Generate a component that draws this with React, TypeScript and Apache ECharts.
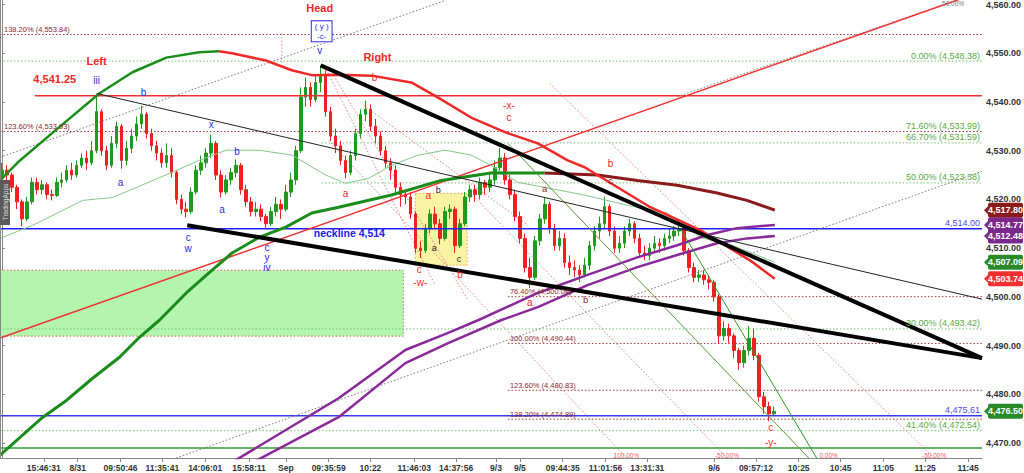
import React, { useEffect, useRef } from "react";
import * as echarts from "echarts";

// ---------- DATA ----------
// candles: [open, close, low, high], one per bar index
const candles: number[][] = [
  [4525.0, 4526.0, 4524.0, 4527.5], [4526.0, 4525.0, 4523.5, 4527.0], [4525.0, 4522.5, 4521.5, 4525.5], [4522.5, 4519.5, 4518.0, 4523.0],
  [4519.5, 4516.0, 4514.5, 4520.0], [4516.0, 4519.5, 4515.5, 4520.5], [4519.5, 4523.5, 4519.0, 4524.5], [4523.5, 4522.0, 4521.0, 4524.5],
  [4522.0, 4523.0, 4521.0, 4524.0], [4523.0, 4521.0, 4520.0, 4523.5], [4521.0, 4520.8, 4519.8, 4522.0], [4520.8, 4523.5, 4520.5, 4524.5],
  [4523.5, 4524.0, 4522.5, 4525.5], [4524.0, 4526.0, 4523.5, 4527.0], [4526.0, 4525.0, 4524.0, 4527.5], [4525.0, 4527.0, 4524.5, 4528.0],
  [4527.0, 4528.5, 4526.5, 4529.5], [4528.5, 4527.5, 4526.0, 4530.0], [4527.5, 4530.0, 4527.0, 4532.0], [4530.0, 4538.0, 4529.5, 4541.25],
  [4538.0, 4530.0, 4529.0, 4538.5], [4530.0, 4527.0, 4526.0, 4531.0], [4527.0, 4531.5, 4526.5, 4533.0], [4531.5, 4535.0, 4530.5, 4536.0],
  [4535.0, 4528.0, 4526.3, 4535.5], [4528.0, 4530.5, 4527.0, 4532.0], [4530.5, 4533.0, 4529.5, 4534.5], [4533.0, 4535.5, 4532.0, 4537.0],
  [4535.5, 4537.5, 4534.5, 4539.2], [4537.5, 4533.5, 4532.5, 4538.0], [4533.5, 4531.0, 4530.0, 4534.5], [4531.0, 4529.5, 4528.0, 4532.0],
  [4529.5, 4527.5, 4526.5, 4530.5], [4527.5, 4529.0, 4526.5, 4531.5], [4529.0, 4525.5, 4524.5, 4530.5], [4525.5, 4520.0, 4519.0, 4526.0],
  [4520.0, 4518.0, 4517.0, 4521.0], [4518.0, 4517.5, 4516.3, 4519.5], [4517.5, 4521.5, 4517.0, 4522.5], [4521.5, 4526.0, 4521.0, 4527.0],
  [4526.0, 4527.5, 4525.0, 4529.0], [4527.5, 4529.5, 4526.5, 4530.5], [4529.5, 4531.5, 4528.5, 4533.3], [4531.5, 4525.0, 4524.0, 4532.0],
  [4525.0, 4521.5, 4520.4, 4526.0], [4521.5, 4524.0, 4521.0, 4525.0], [4524.0, 4525.5, 4523.0, 4526.5], [4525.5, 4527.0, 4524.5, 4528.2],
  [4527.0, 4522.0, 4521.0, 4527.5], [4522.0, 4519.5, 4518.5, 4523.0], [4519.5, 4517.5, 4516.5, 4520.5], [4517.5, 4518.0, 4516.5, 4519.5],
  [4518.0, 4516.5, 4515.5, 4519.0], [4516.5, 4515.0, 4514.2, 4517.0], [4515.0, 4517.5, 4514.5, 4518.5], [4517.5, 4519.0, 4516.5, 4520.5],
  [4519.0, 4518.0, 4516.0, 4520.0], [4518.0, 4521.5, 4517.5, 4523.0], [4521.5, 4524.0, 4520.5, 4525.5], [4524.0, 4530.0, 4523.0, 4531.0],
  [4530.0, 4541.0, 4529.5, 4543.0], [4541.0, 4543.0, 4539.0, 4545.0], [4543.0, 4540.5, 4539.0, 4544.0], [4540.5, 4544.0, 4540.0, 4545.5],
  [4544.0, 4545.5, 4542.0, 4547.5], [4545.5, 4538.0, 4537.0, 4546.5], [4538.0, 4533.0, 4532.0, 4539.0], [4533.0, 4531.0, 4529.5, 4534.5],
  [4531.0, 4528.0, 4527.0, 4532.0], [4528.0, 4525.5, 4524.3, 4529.0], [4525.5, 4529.0, 4525.0, 4530.0], [4529.0, 4533.5, 4528.0, 4534.5],
  [4533.5, 4537.5, 4532.5, 4538.5], [4537.5, 4538.5, 4536.0, 4540.3], [4538.5, 4535.0, 4534.0, 4539.5], [4535.0, 4533.0, 4531.5, 4536.5],
  [4533.0, 4530.0, 4529.0, 4534.0], [4530.0, 4527.5, 4526.5, 4531.0], [4527.5, 4526.0, 4524.0, 4528.5], [4526.0, 4522.5, 4521.5, 4527.0],
  [4522.5, 4521.0, 4518.5, 4523.5], [4521.0, 4520.5, 4519.0, 4522.0], [4520.5, 4517.0, 4516.0, 4521.5], [4517.0, 4510.0, 4509.0, 4517.5],
  [4510.0, 4509.5, 4508.0, 4511.5], [4509.5, 4514.0, 4509.0, 4515.0], [4514.0, 4517.0, 4513.0, 4518.0], [4517.0, 4515.0, 4514.0, 4518.5],
  [4515.0, 4512.0, 4510.8, 4516.0], [4512.0, 4517.5, 4511.5, 4518.5], [4517.5, 4518.0, 4516.0, 4519.0], [4518.0, 4510.5, 4509.0, 4518.5],
  [4510.5, 4515.0, 4510.0, 4516.0], [4515.0, 4520.5, 4514.5, 4521.5], [4520.5, 4522.0, 4519.5, 4523.0], [4522.0, 4521.0, 4519.5, 4523.0],
  [4521.0, 4523.5, 4520.0, 4524.5], [4523.5, 4522.5, 4521.0, 4524.0], [4522.5, 4524.0, 4521.5, 4525.5], [4524.0, 4526.5, 4523.0, 4528.0],
  [4526.5, 4528.5, 4525.5, 4530.6], [4528.5, 4524.0, 4523.0, 4529.5], [4524.0, 4521.0, 4520.0, 4525.0], [4521.0, 4516.5, 4515.5, 4522.0],
  [4516.5, 4512.0, 4511.0, 4517.5], [4512.0, 4506.0, 4505.0, 4513.0], [4506.0, 4504.0, 4501.8, 4508.0], [4504.0, 4511.5, 4503.5, 4512.5],
  [4511.5, 4516.0, 4510.5, 4517.0], [4516.0, 4519.0, 4515.0, 4520.5], [4519.0, 4514.0, 4513.0, 4519.5], [4514.0, 4510.5, 4509.5, 4515.0],
  [4510.5, 4512.0, 4509.5, 4513.5], [4512.0, 4507.0, 4506.0, 4513.0], [4507.0, 4506.0, 4504.5, 4508.5], [4506.0, 4505.5, 4504.0, 4507.5],
  [4505.5, 4504.5, 4503.0, 4506.5], [4504.5, 4506.5, 4504.0, 4508.0], [4506.5, 4510.5, 4505.5, 4511.5], [4510.5, 4513.5, 4509.5, 4514.5],
  [4513.5, 4515.0, 4512.0, 4516.5], [4515.0, 4518.5, 4514.0, 4520.6], [4518.5, 4513.5, 4512.5, 4519.0], [4513.5, 4510.0, 4509.0, 4514.5],
  [4510.0, 4511.0, 4509.0, 4512.5], [4511.0, 4513.5, 4510.0, 4514.5], [4513.5, 4515.0, 4512.5, 4516.0], [4515.0, 4512.0, 4511.0, 4515.5],
  [4512.0, 4509.0, 4508.0, 4513.0], [4509.0, 4508.5, 4507.5, 4510.5], [4508.5, 4510.0, 4507.5, 4511.0], [4510.0, 4511.0, 4509.0, 4512.5],
  [4511.0, 4510.5, 4509.0, 4512.0], [4510.5, 4512.0, 4509.5, 4513.0], [4512.0, 4512.5, 4511.0, 4514.0], [4512.5, 4513.5, 4511.5, 4514.5],
  [4513.5, 4514.0, 4512.5, 4515.0], [4514.0, 4509.5, 4508.5, 4514.5], [4509.5, 4506.0, 4505.0, 4510.0], [4506.0, 4504.0, 4503.0, 4507.0],
  [4504.0, 4504.5, 4503.0, 4505.5], [4504.5, 4503.5, 4502.5, 4505.5], [4503.5, 4503.0, 4501.5, 4504.5], [4503.0, 4500.0, 4499.0, 4503.5],
  [4500.0, 4492.0, 4490.5, 4500.5], [4492.0, 4493.5, 4491.0, 4495.0], [4493.5, 4492.0, 4490.5, 4494.5], [4492.0, 4489.0, 4487.5, 4492.5],
  [4489.0, 4486.5, 4485.0, 4489.5], [4486.5, 4489.0, 4485.5, 4490.0], [4489.0, 4491.5, 4488.0, 4494.0], [4491.5, 4488.0, 4487.0, 4493.5],
  [4488.0, 4479.5, 4478.5, 4488.5], [4479.5, 4477.5, 4476.0, 4480.5], [4477.5, 4476.0, 4474.5, 4478.5], [4476.0, 4476.5, 4475.5, 4477.5],
];

const xTickPos = [8.4, 15.2, 23.8, 32.2, 40.8, 49.6, 57, 65.6, 74, 82.8, 91.2, 99.2, 104, 112.6, 121.2, 129.6, 143, 151.4, 160, 168.4, 177, 185.4, 194];
const xTickLabels = ["15:46:31", "8/31", "09:50:46", "11:35:41", "14:06:01", "15:58:11", "Sep", "09:35:59", "10:22", "11:46:03", "14:37:56", "9/3", "9/5", "09:44:35", "11:01:56", "13:31:31", "9/6", "09:57:12", "10:25", "10:45", "11:05", "11:25", "11:45"];
const yTicks = [4470, 4480, 4490, 4500, 4510, 4520, 4530, 4540, 4550, 4560];

// moving averages [barIndex, price]
const maFastUp = [[-0.4, 4523.9], [3.6, 4528.0], [9.6, 4533.2], [19.6, 4541.8], [26.2, 4546.1], [33, 4549.1], [39.6, 4550.2], [43.6, 4550.4]];
const maFastDown = [[43.6, 4550.4], [46.2, 4550.0], [53, 4548.5], [58.2, 4546.5], [62.2, 4545.5], [67.6, 4545.6], [74.2, 4545.4], [82.2, 4544.0], [87.6, 4540.9], [94.2, 4536.8], [101, 4533.8], [107.6, 4531.5], [113.6, 4528.0], [117, 4526.6], [123.6, 4522.5], [130.2, 4518.4], [140.2, 4513.7], [150.2, 4507.5], [155.2, 4503.74]];
const maSlowUp = [[-0.4, 4467.5], [8.2, 4475.3], [13, 4478.8], [18.2, 4483.3], [23.6, 4487.6], [27.6, 4491.7], [31.6, 4495.2], [37, 4500.8], [42.2, 4505.5], [46.2, 4509.0], [51.6, 4512.2], [57, 4514.3], [62.2, 4517.2], [67.6, 4518.4], [78.2, 4520.9], [88.2, 4523.9], [98.2, 4525.4], [109, 4525.4]];
const maSlowDown = [[109, 4525.4], [119.6, 4525.0], [127.6, 4523.9], [135.6, 4522.9], [143.6, 4521.3], [149.6, 4519.8], [155.2, 4517.8]];
const maThin = [[-0.4, 4512.0], [6.2, 4514.7], [16.2, 4519.8], [22.2, 4520.4], [27.6, 4522.7], [34.2, 4525.6], [39.6, 4528.0], [45, 4530.1], [51.6, 4530.1], [58.2, 4529.1], [65, 4525.0], [69, 4523.3], [73.6, 4524.3], [78.2, 4527.0], [83.6, 4529.1], [89, 4530.1], [94.2, 4529.1], [98.2, 4527.0], [103.6, 4523.5], [117, 4520.9], [125.6, 4518.8], [133.6, 4517.2], [140.2, 4512.2], [146.6, 4510.6], [155.2, 4507.09]];
const purpleUpper = [[44, 4464.7], [47.6, 4466.9], [67.6, 4479.2], [81, 4489.1], [89.6, 4492.6], [95.6, 4495.2], [107.6, 4500.8], [117.6, 4504.5], [127.6, 4508.1], [135.6, 4510.6], [141.6, 4512.7], [147.6, 4514.1], [155.2, 4514.77]];
const purpleLower = [[48, 4464.5], [52, 4466.9], [67.6, 4475.3], [81, 4486.4], [89.6, 4490.5], [100.2, 4495.2], [107.6, 4497.9], [117.6, 4502.4], [127.6, 4506.1], [135.6, 4508.6], [143.6, 4511.0], [149.6, 4512.0], [155.2, 4512.48]];

// trend lines
const trendHead = [[64, 4547.5], [196.8, 4487.43]];
const trendLow = [[37.2, 4514.7], [196.8, 4487.43]];
const trendThin = [[19, 4541.76], [196.8, 4499.53]];
const redRise = [[-0.4, 4491.53], [196.8, 4562.7]];
const grayUpper = [[-0.4, 4528.64], [89, 4560.82]];
const grayLower = [[35, 4466.93], [196.8, 4525.77]];
const grayTop = [[135.6, 4541.1], [192, 4561.0]];
const greenChanA = [[101.6, 4531.5], [162, 4466.93]];
const greenChanB = [[136.2, 4514.08], [163.6, 4466.93]];
const pinkLines = [
  [[64.8, 4547.29], [87, 4502.4]],
  [[66.6, 4545.45], [93.6, 4499.32]],
  [[65.6, 4532.12], [125.4, 4466.93]],
  [[93.6, 4521.87], [145.6, 4466.93]],
  [[110, 4543.8], [187.2, 4466.93]],
  [[72.6, 4539.3], [105.6, 4514.7]],
  [[56.2, 4554.06], [56.2, 4547.09]],
];

// horizontal levels [price, startIndex]
const levelRed = [4541.25, 6.6];
const levelNeck = [4514.0, -0.4];
const levelBlueLow = [4475.61, -0.4];
const levelGreen = [4469.0, -0.4];
const fibGreen = [[4548.38, -0.4], [4531.59, 64.2], [4523.38, 64.2], [4493.42, -0.4], [4472.54, -0.4]];
const fibBrown = [[4553.84, -0.4], [4533.93, -0.4], [4500.04, 101.6], [4490.44, 101.6], [4480.83, 101.6], [4474.89, 101.6]];

// zones [[x1, p1], [x2, p2]]
const zoneGreen = [[-0.4, 4505.47], [80.6, 4491.94]];
const zoneYellow = [[83, 4521.25], [93.4, 4506.5]];

// texts
const fibGreenLabels = [["0.00% (4,548.38)", 4548.38], ["71.60% (4,533.99)", 4533.99], ["66.70% (4,531.59)", 4531.59], ["50.00% (4,523.38)", 4523.38], ["30.00% (4,493.42)", 4493.42], ["41.40% (4,472.54)", 4472.54]];
const blueRightLabels = [["4,514.00", 4514.0], ["4,475.61", 4475.61]];
const brownLeftLabels = [["138.20% (4,553.84)", 4553.84], ["123.60% (4,533.93)", 4533.93]];
const brownMidLabels = [["76.40% (4,500.04)", 4500.04], ["100.00% (4,490.44)", 4490.44], ["123.60% (4,480.83)", 4480.83], ["138.20% (4,474.89)", 4474.89]];
const pinkBottomLabels = [["100.00%", 125.4], ["-50.00%", 145.6], ["0.00%", 166], ["-50.00%", 187.2]];
const titleLabels = [["Head", 63.8, 4559.2], ["Left", 19, 4548.5], ["Right", 75.4, 4549.3], ["4,541.25", 10.6, 4544.8]];
const blueWaves = [["iii", 19, 4544.4], ["v", 63.8, 4550.6], ["b", 28.4, 4542.0], ["x", 42, 4535.4], ["a", 23.8, 4523.5], ["b", 47.2, 4529.9], ["a", 44.2, 4518.0], ["c", 37.4, 4512.2], ["w", 37.4, 4510.0], ["c", 53.2, 4510.2], ["y", 53.2, 4508.1], ["iv", 53.2, 4506.1]];
const redWaves = [["b", 74.8, 4545.0], ["-x-", 101.8, 4539.3], ["c", 101.8, 4536.8], ["a", 69, 4521.3], ["a", 85.6, 4520.9], ["c", 83.8, 4505.7], ["-w-", 84, 4503.0], ["b", 92, 4504.5], ["a", 106, 4498.9], ["b", 122.2, 4527.4], ["c", 154.4, 4473.1], ["-y-", 154.4, 4470.2]];
const darkWaves = [["b", 87.6, 4521.9], ["a", 86.8, 4510.0], ["c", 91.8, 4507.7]];
const brownWaves = [["a", 109, 4522.3], ["c", 122.2, 4523.9], ["b", 117.2, 4499.5]];
const boxLabel = ["( y )\n-c-", 64.2, 4554.5];
const neckText = ["neckline 4,514", 62.6, 4513.06];
const priceTags = [[4517.8, "#8b1a1a"], [4514.77, "#7b2a8b"], [4512.48, "#7b2a8b"], [4507.09, "#2a8a2a"], [4503.74, "#f03030"], [4476.5, "#2a8a2a"]];

// ---------- CHART ----------
const FF = "'Liberation Sans', Arial, sans-serif";
const X_MIN = -0.4;
const X_MAX = 196.8;
const fmt = (v: number) => v.toLocaleString("en-US", { minimumFractionDigits: 2, maximumFractionDigits: 2 });

const line = (data: any, color: string, width: number, type: any = "solid", z = 3) => ({
  type: "line", data, showSymbol: false, symbol: "none", silent: true, z,
  lineStyle: { color, width, type }, emphasis: { disabled: true },
});
const hline = (lv: number[], color: string, width: number, type: any = "solid", z = 3) =>
  line([[lv[1], lv[0]], [X_MAX, lv[0]]], color, width, type, z);

export default function App() {
  const ref = useRef<HTMLDivElement>(null);
  useEffect(() => {
    document.body.style.margin = "0";
    const chart = echarts.init(ref.current!, null, { renderer: "svg" });
    const dot = [1.5, 2];
    const series: any[] = [
      {
        type: "candlestick",
        data: candles.map((c, i) => [i, c[0], c[1], c[2], c[3]]),
        barWidth: 3, z: 2, silent: true,
        itemStyle: { color: "#1f9a1f", color0: "#f02020", borderColor: "#1f9a1f", borderColor0: "#f02020", borderWidth: 1 },
        markArea: {
          silent: true,
          data: [
            [{ coord: zoneGreen[0], itemStyle: { color: "#b4f5ae", borderColor: "#e06060", borderWidth: 1, borderType: dot } }, { coord: zoneGreen[1] }],
            [{ coord: zoneYellow[0], itemStyle: { color: "#fbf3a4", borderColor: "#f0a040", borderWidth: 1, borderType: dot } }, { coord: zoneYellow[1] }],
          ],
        },
      },
      ...fibGreen.map((lv) => hline(lv, "#78c078", 1, dot, 2)),
      ...fibBrown.map((lv) => hline(lv, "#a03a3a", 1, dot, 2)),
      hline(levelGreen, "#3a9a3a", 1.5),
      hline(levelBlueLow, "#3a3af0", 1.5),
      hline(levelNeck, "#2020f0", 1.5),
      hline(levelRed, "#f03030", 1.5),
      ...pinkLines.map((d) => line(d, "#f08080", 1, dot, 2)),
      line(grayUpper, "#777", 1, dot),
      line(grayLower, "#777", 1, dot),
      line(grayTop, "#888", 1, dot),
      line(redRise, "#f03030", 1.5),
      line(maThin, "#86c886", 1),
      line(maSlowUp, "#1a8c1a", 3),
      line(maSlowDown, "#8b1a1a", 3),
      line(maFastUp, "#1a8c1a", 2.5),
      line(maFastDown, "#f02828", 2.5),
      line(purpleUpper, "#8a2a9a", 2.5),
      line(purpleLower, "#8a2a9a", 2.5),
      line(greenChanA, "#5a9a3a", 1),
      line(greenChanB, "#2a9a2a", 1),
      line(trendThin, "#222", 1, "solid", 4),
      line(trendHead, "#000", 4, "solid", 4),
      line(trendLow, "#000", 4, "solid", 4),
    ];

    chart.setOption({
      animation: false,
      backgroundColor: "#fff",
      grid: { left: 0, right: 38, top: 0, bottom: 15, containLabel: false },
      xAxis: {
        type: "value", min: X_MIN, max: X_MAX,
        axisLine: { show: true, onZero: false, lineStyle: { color: "#888" } },
        axisTick: { show: true, customValues: xTickPos, length: 4, lineStyle: { color: "#888" } },
        axisLabel: {
          customValues: xTickPos, fontSize: 8.5, fontWeight: "bold", color: "#333", fontFamily: FF, margin: 5,
          formatter: (v: number) => {
            const k = xTickPos.findIndex((p) => Math.abs(p - v) < 1e-6);
            return k >= 0 ? xTickLabels[k] : "";
          },
        },
        splitLine: { show: false },
      },
      yAxis: {
        type: "value", position: "right", min: 4466.93, max: 4560.82,
        axisLine: { show: true, lineStyle: { color: "#888" } },
        axisTick: { show: true, customValues: yTicks, length: 3, lineStyle: { color: "#888" } },
        axisLabel: { customValues: yTicks, formatter: (v: number) => fmt(v), fontSize: 9, fontWeight: "bold", color: "#333", fontFamily: FF, margin: 4 },
        splitLine: { show: false },
      },
      series,
    });

    const P = (i: number, p: number) => chart.convertToPixel({ gridIndex: 0 } as any, [i, p]) as number[];
    const g: any[] = [];
    const txt = (text: string, i: number, p: number, o: any) => {
      const [x, y] = P(i, p);
      g.push({
        type: "text", x, y: y + (o.dy || 0), z: 100, silent: true,
        style: {
          text, fill: o.color, fontSize: o.size, fontWeight: o.weight || "normal", fontFamily: FF,
          align: o.align || "center", verticalAlign: o.va || "middle", lineHeight: o.lh, ...(o.extra || {}),
        },
      });
    };
    fibGreenLabels.forEach(([t, v]: any) => txt(t, 196.4, v, { color: "#5aaa46", size: 9, align: "right", va: "bottom", dy: -1 }));
    blueRightLabels.forEach(([t, v]: any) => txt(t, 196.4, v, { color: "#4a4af0", size: 9, align: "right", va: "bottom", dy: -1 }));
    brownLeftLabels.forEach(([t, v]: any) => txt(t, 0.4, v, { color: "#8b2a2a", size: 7.5, align: "left", va: "bottom", dy: -1 }));
    brownMidLabels.forEach(([t, v]: any) => txt(t, 102, v, { color: "#8b2a2a", size: 7.5, align: "left", va: "bottom", dy: -1 }));
    pinkBottomLabels.forEach(([t, i]: any) => txt(t, i, 4467.5, { color: "#f06060", size: 6.5 }));
    txt("50.00%", 191, 4560.2, { color: "#777", size: 6.5 });
    titleLabels.forEach(([t, i, p]: any) => txt(t, i, p, { color: "#f02828", size: 11, weight: "bold" }));
    blueWaves.forEach(([t, i, p]: any) => txt(t, i, p, { color: "#2a2af0", size: 10 }));
    redWaves.forEach(([t, i, p]: any) => txt(t, i, p, { color: "#f02828", size: 10 }));
    darkWaves.forEach(([t, i, p]: any) => txt(t, i, p, { color: "#222", size: 9 }));
    brownWaves.forEach(([t, i, p]: any) => txt(t, i, p, { color: "#8b2a2a", size: 9.5 }));
    txt(boxLabel[0] as string, boxLabel[1] as number, boxLabel[2] as number, {
      color: "#2a2af0", size: 8, lh: 10,
      extra: { borderColor: "#2a2af0", borderWidth: 1, padding: [0, 3, 0, 3], backgroundColor: "#fff" },
    });
    txt(neckText[0] as string, neckText[1] as number, neckText[2] as number, { color: "#2020f0", size: 10.5, weight: "bold", align: "left" });

    priceTags.forEach(([v, c]: any) => {
      const [, y] = P(X_MAX, v);
      g.push({ type: "polygon", z: 100, silent: true, shape: { points: [[984, y], [988, y - 4], [988, y + 4]] }, style: { fill: c } });
      g.push({ type: "rect", z: 100, silent: true, shape: { x: 988, y: y - 7.5, width: 35, height: 15, r: 2 }, style: { fill: c } });
      g.push({ type: "text", z: 101, silent: true, x: 1005.5, y, style: { text: fmt(v), fill: "#fff", fontSize: 9, fontWeight: "bold", fontFamily: FF, align: "center", verticalAlign: "middle" } });
    });

    // left border and watermark
    g.push({ type: "line", z: 100, silent: true, shape: { x1: 0.5, y1: 0, x2: 0.5, y2: 458 }, style: { stroke: "#888", lineWidth: 1 } });
    g.push({ type: "rect", z: 100, silent: true, shape: { x: 0, y: 180, width: 10, height: 45 }, style: { fill: "#5a5a5a" } });
    g.push({ type: "text", z: 101, silent: true, x: 5, y: 202, rotation: Math.PI / 2, style: { text: "TradingApps", fill: "#ddd", fontSize: 6.5, fontFamily: FF, align: "center", verticalAlign: "middle" } });

    chart.setOption({ graphic: g });
    return () => chart.dispose();
  }, []);
  return <div ref={ref} style={{ width: 1024, height: 473 }} />;
}
